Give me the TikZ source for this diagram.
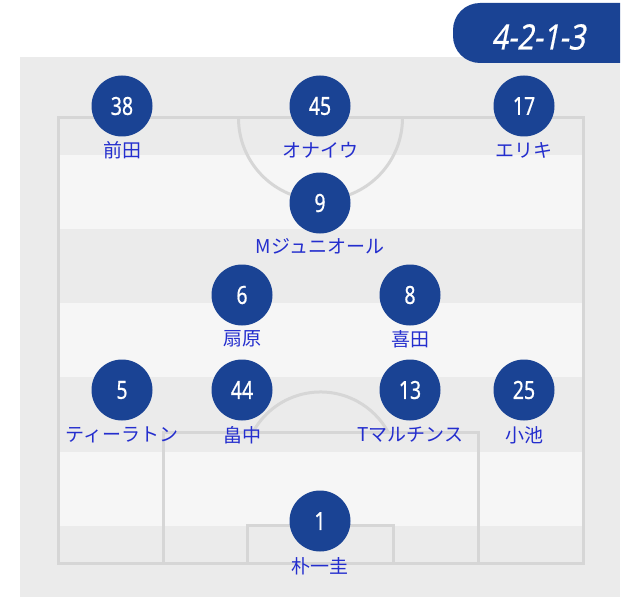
\documentclass[tikz,border=0pt]{standalone}
\usepackage{fontspec}
\usepackage{tikz}
\newfontfamily\jpfont{Noto Sans CJK JP}
\newfontfamily\numfont[FakeStretch=0.78, FakeBold=0.6]{Noto Sans}
\newfontfamily\tabfont[FakeStretch=0.82, FakeSlant=0.2, FakeBold=0.6]{Noto Sans}
\definecolor{panelgray}{RGB}{235,235,235}
\definecolor{stripegray}{RGB}{246,246,246}
\definecolor{linegray}{RGB}{214,214,214}
\definecolor{teamblue}{RGB}{26,67,148}
\definecolor{nameblue}{RGB}{36,46,206}
\tikzset{player/.style={circle, fill=teamblue, minimum size=61pt, inner sep=0pt, text=white, font=\numfont\fontsize{25}{25}\selectfont},
pname/.style={text=nameblue, inner sep=0pt, font=\jpfont\fontsize{19}{19}\selectfont},
pline/.style={draw=linegray, line width=3pt}}

\begin{document}
\begin{tikzpicture}[x=1pt, y=-1pt]
\useasboundingbox (0,0) rectangle (640,607);
\fill[white] (0,0) rectangle (640,607);
\fill[panelgray] (20,57) rectangle (620,597);
% pitch stripes
\fill[stripegray] (58,155) rectangle (583,229);
\fill[stripegray] (58,303) rectangle (583,377);
\fill[stripegray] (58,452) rectangle (583,526);
% pitch lines
\draw[pline] (58,118) rectangle (583,563);
\draw[pline] (238.5,118) arc[start angle=180, end angle=0, radius=82];
\draw[pline] (163,563) -- (163,432) -- (478,432) -- (478,563);
\draw[pline] (247,563) -- (247,525) -- (393,525) -- (393,563);
\draw[pline] (253,432) arc[start angle=-151.3, end angle=-28.7, radius=77];
% formation tab
\fill[teamblue, rounded corners=27pt] (620,63) -- (453,63) -- (453,3) -- (620,3);
\node[text=white, inner sep=0pt, font=\tabfont\fontsize{35}{35}\selectfont] (formation) at (538,37) {4-2-1-3};
% forwards
\node[player] (p38) at (122,106) {38};
\node[player] (p45) at (320,106) {45};
\node[player] (p17) at (524,106) {17};
\node[pname] (n38) at ([yshift=-44pt]p38) {前田};
\node[pname] (n45) at ([yshift=-44pt]p45) {オナイウ};
\node[pname] (n17) at ([yshift=-44pt]p17) {エリキ};
% attacking mid
\node[player] (p9) at (320,203) {9};
\node[pname] (n9) at ([yshift=-43pt]p9) {Mジュニオール};
% central mids
\node[player] (p6) at (242,295) {6};
\node[player] (p8) at (410,295) {8};
\node[pname] (n6) at ([yshift=-44pt]p6) {扇原};
\node[pname] (n8) at ([yshift=-44pt]p8) {喜田};
% defenders
\node[player] (p5) at (122,390) {5};
\node[player] (p44) at (242,390) {44};
\node[player] (p13) at (410,390) {13};
\node[player] (p25) at (524,390) {25};
\node[pname] (n5) at ([yshift=-45pt]p5) {ティーラトン};
\node[pname] (n44) at ([yshift=-45pt]p44) {畠中};
\node[pname] (n13) at ([yshift=-45pt]p13) {Tマルチンス};
\node[pname] (n25) at ([yshift=-45pt]p25) {小池};
% keeper
\node[player] (p1) at (320,521) {1};
\node[pname] (n1) at ([yshift=-45pt]p1) {朴一圭};
\end{tikzpicture}
\end{document}
